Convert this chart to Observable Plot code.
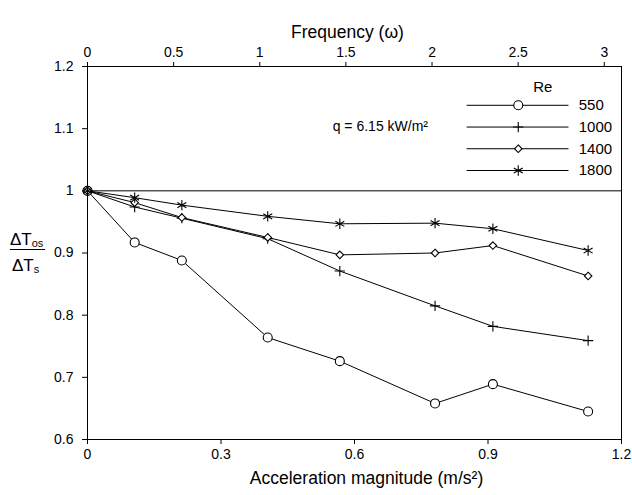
<!DOCTYPE html>
<html><head><meta charset="utf-8">
<script src="https://cdn.jsdelivr.net/npm/d3@7"></script>
<script src="https://cdn.jsdelivr.net/npm/@observablehq/plot@0.6"></script>
<style>body{margin:0;background:#fff} svg{font-family:"Liberation Sans",Arial,sans-serif}</style>
</head><body><div id="chart"></div>
<script>
// Data
const accel  = [0, 0.106, 0.212, 0.405, 0.567, 0.781, 0.911, 1.125];
const re550  = [1.0, 0.917, 0.888, 0.764, 0.726, 0.658, 0.689, 0.645];
const re1000 = [1.0, 0.974, 0.956, 0.923, 0.871, 0.815, 0.782, 0.759];
const re1400 = [1.0, 0.981, 0.957, 0.925, 0.897, 0.900, 0.912, 0.863];
const re1800 = [1.0, 0.989, 0.977, 0.959, 0.947, 0.948, 0.939, 0.904];
const seriesNames = ["550", "1000", "1400", "1800"];
const seriesSymbols = ["circle", "plus", "diamond2", "asterisk"];
const seriesR = [4.5, 3.4, 3.4, 4.9];
const xTicks = [0, 0.3, 0.6, 0.9, 1.2];
const yTicks = [0.6, 0.7, 0.8, 0.9, 1, 1.1, 1.2];
const freqTicks = [0, 0.5, 1, 1.5, 2, 2.5, 3];
const freqMax = 3.1, accelMax = 1.2;
// legend layout in data units
const legendRowY = [1.1376, 1.1026, 1.0677, 1.0327];
const legendX1 = 0.853, legendX2 = 1.082, legendMarkX = 0.968, legendTextX = 1.104;
const legendTitle = {x: 1.023, y: 1.166, text: "Re"};
const note = {x: 0.551, y: 1.104, text: "q = 6.15 kW/m²"};

const seriesValues = [re550, re1000, re1400, re1800];
const rows = seriesNames.flatMap((name, k) => accel.map((a, i) => ({series: name, x: a, y: seriesValues[k][i]})));
const legendRows = seriesNames.map((name, k) => ({series: name, y: legendRowY[k], k}));

const marks = [
  Plot.ruleY([1], {stroke: "#000", strokeWidth: 1}),
  Plot.frame({stroke: "#000", strokeWidth: 1}),
  Plot.axisX({anchor: "bottom", ticks: xTicks, tickFormat: d => String(d), tickSize: 5, tickPadding: 5, label: null, stroke: "#000", fill: "#000"}),
  Plot.axisX({anchor: "top", ticks: freqTicks.map(f => f * accelMax / freqMax), tickFormat: d => String(Math.round(d * freqMax / accelMax * 10) / 10), tickSize: 5, tickPadding: 5, label: null, stroke: "#000", fill: "#000"}),
  Plot.axisY({anchor: "left", ticks: yTicks, tickFormat: d => String(d), tickSize: 5, tickPadding: 9, label: null, stroke: "#000", fill: "#000"}),
];
seriesNames.forEach((name, k) => {
  const pts = rows.filter(d => d.series === name);
  marks.push(Plot.line(pts, {x: "x", y: "y", stroke: "#000", strokeWidth: 1}));
  marks.push(Plot.dot(pts, {x: "x", y: "y", symbol: seriesSymbols[k], r: seriesR[k], stroke: "#000", fill: "#fff", strokeWidth: 1.1}));
  const lr = legendRows.filter(d => d.series === name);
  marks.push(Plot.ruleY(lr, {y: "y", x1: legendX1, x2: legendX2, stroke: "#000", strokeWidth: 1}));
  marks.push(Plot.dot(lr, {x: legendMarkX, y: "y", symbol: seriesSymbols[k], r: seriesR[k], stroke: "#000", fill: "#fff", strokeWidth: 1.1}));
  marks.push(Plot.text(lr, {x: legendTextX, y: "y", text: "series", textAnchor: "start", fontSize: 15, fill: "#000"}));
});
marks.push(Plot.text([legendTitle], {x: "x", y: "y", text: "text", fontSize: 15, fill: "#000"}));
marks.push(Plot.text([note], {x: "x", y: "y", text: "text", textAnchor: "start", fontSize: 14, fill: "#000"}));
marks.push(Plot.text(["Acceleration magnitude (m/s²)"], {text: d => d, frameAnchor: "bottom", dy: 44, dx: 12, fontSize: 17.5, fill: "#000"}));
marks.push(Plot.text(["Frequency (ω)"], {text: d => d, frameAnchor: "top", dy: -41, dx: -7, fontSize: 17.5, fill: "#000"}));

const svg = Plot.plot({
  width: 632, height: 495,
  marginLeft: 87, marginRight: 11, marginTop: 66, marginBottom: 56,
  style: {fontSize: "14px", fontFamily: "'Liberation Sans', Arial, sans-serif", background: "#fff", color: "#000"},
  x: {domain: [0, accelMax]},
  y: {domain: [0.6, 1.2]},
  marks
});
document.getElementById("chart").appendChild(svg);

// y-axis label as a fraction: ΔT_os / ΔT_s
const g = d3.select(svg).append("g").attr("fill", "#000").attr("font-size", 17).attr("text-anchor", "start");
const num = g.append("text").attr("x", 10).attr("y", 245);
num.append("tspan").text("ΔT");
num.append("tspan").attr("font-size", 11).attr("dy", 2).text("os");
g.append("line").attr("x1", 10).attr("x2", 45).attr("y1", 249.5).attr("y2", 249.5).attr("stroke", "#000").attr("stroke-width", 1.2);
const den = g.append("text").attr("x", 12).attr("y", 271);
den.append("tspan").text("ΔT");
den.append("tspan").attr("font-size", 11).attr("dy", 2).text("s");
</script>
</body></html>
